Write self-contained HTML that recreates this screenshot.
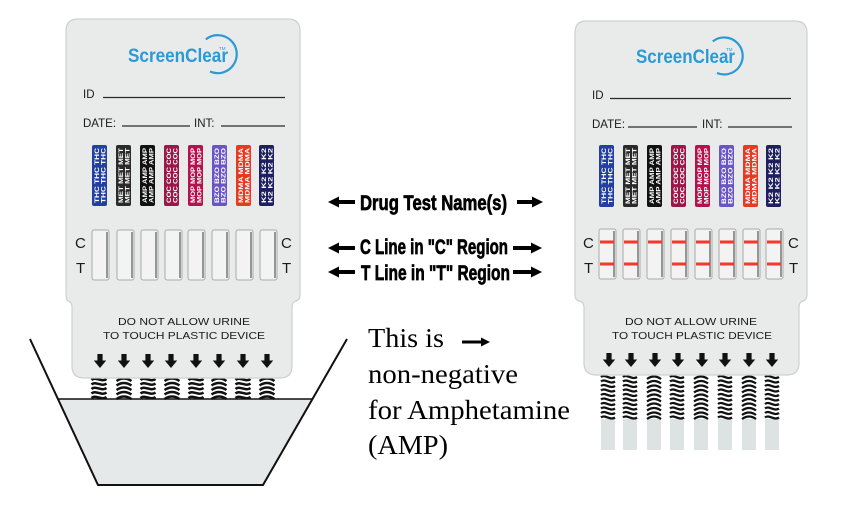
<!DOCTYPE html>
<html><head><meta charset="utf-8"><style>
html,body{margin:0;padding:0;background:#fff;}
svg{display:block;}
.lbl{font-family:"Liberation Sans",sans-serif;fill:#1a1a1a;}
.dn{font-family:"Liberation Sans",sans-serif;font-weight:bold;font-size:6px;fill:#fff;}
.mid{font-family:"Liberation Sans",sans-serif;font-weight:bold;font-size:21px;fill:#000;stroke:#000;stroke-width:0.7;}
.ser{font-family:"Liberation Serif",serif;font-size:27px;fill:#000;}
</style></head><body>
<svg width="856" height="508" viewBox="0 0 856 508" xmlns="http://www.w3.org/2000/svg">
<defs>
<g id="w1" fill="none" stroke="#111" stroke-width="2.5">
<path d="M0,2 C4.5,-2 10,5 15,1"/><path d="M0,6.5 C4.5,2.5 10,9.5 15,5.5"/><path d="M0,11 C4.5,7 10,14 15,10"/><path d="M0,15.5 C4.5,11.5 10,18.5 15,14.5"/><path d="M0,20 C4.5,16 10,23 15,19"/>
</g>
<g id="w1b" fill="none" stroke="#111" stroke-width="2.5">
<path d="M0,3 Q7.5,-2 15,3"/><path d="M0,7.5 Q7.5,2.5 15,7.5"/><path d="M0,12 Q7.5,7 15,12"/><path d="M0,16.5 Q7.5,11.5 15,16.5"/><path d="M0,21 Q7.5,16 15,21"/>
</g>
<g id="w2" fill="none" stroke="#111" stroke-width="2.3">
<path d="M0,1 C4,-2.5 9,4.5 14,1"/><path d="M0,5.5 C4,2 9,9 14,5.5"/><path d="M0,10 C4,6.5 9,13.5 14,10"/><path d="M0,14.5 C4,11 9,18 14,14.5"/><path d="M0,19 C4,15.5 9,22.5 14,19"/><path d="M0,23.5 C4,20 9,27 14,23.5"/><path d="M0,28 C4,24.5 9,31.5 14,28"/><path d="M0,32.5 C4,29 9,36 14,32.5"/><path d="M0,37 C4,33.5 9,40.5 14,37"/><path d="M0,41.5 C4,38 9,45 14,41.5"/>
</g>
<g id="w2b" fill="none" stroke="#111" stroke-width="2.3">
<path d="M0,3 Q7,-2 14,3"/><path d="M0,7.5 Q7,2.5 14,7.5"/><path d="M0,12 Q7,7 14,12"/><path d="M0,16.5 Q7,11.5 14,16.5"/><path d="M0,21 Q7,16 14,21"/><path d="M0,25.5 Q7,20.5 14,25.5"/><path d="M0,30 Q7,25 14,30"/><path d="M0,34.5 Q7,29.5 14,34.5"/><path d="M0,39 Q7,34 14,39"/><path d="M0,43 Q7,38 14,43"/>
</g>
<path id="da" d="M-2.6,0 h5.2 v6.5 h3.6 L0,14 L-6.2,6.5 h3.6 z" fill="#111"/>
<g id="win"><rect x="0" y="0" width="17" height="50" rx="2" fill="#f2f3f2" stroke="#a7abaa" stroke-width="1"/><line x1="15" y1="2" x2="15" y2="48" stroke="#4a4a4a" stroke-width="1.1"/></g>
</defs>

<!-- ============ LEFT DEVICE ============ -->
<polygon points="58,399 312.5,399 263,485 98,485" fill="#e6e9e9"/>
<g>
<use href="#w1" x="91.5" y="378"/><use href="#w1b" x="116.5" y="378"/><use href="#w1" x="140.5" y="378"/><use href="#w1b" x="164.5" y="378"/>
<use href="#w1" x="188.5" y="378"/><use href="#w1b" x="211.5" y="378"/><use href="#w1" x="235.5" y="378"/><use href="#w1b" x="259.5" y="378"/>
</g>
<line x1="58" y1="399" x2="312.5" y2="399" stroke="#111" stroke-width="1.6"/>
<polyline points="30,339 98,485 263,485 347,339" fill="none" stroke="#111" stroke-width="2"/>

<path d="M78,19 H288 Q300,19 300,31 V295 Q300,300 296,301 Q292,302 292,307 V366 Q292,378 280,378 H84 Q72,378 72,366 V307 Q72,302 68,301 Q66,300 66,295 V31 Q66,19 78,19 Z" fill="#e9ebea" stroke="#cdd0cf" stroke-width="1.2"/>

<text x="128" y="62" font-family="Liberation Sans, sans-serif" font-weight="bold" font-size="19" fill="#2a9ad6" textLength="100" lengthAdjust="spacingAndGlyphs">ScreenClear</text>
<path d="M205.8,39.4 A19,19 0 1 1 210,71.5" fill="none" stroke="#2a9ad6" stroke-width="2.2"/>
<text x="219" y="50" font-family="Liberation Sans, sans-serif" font-size="4.5" fill="#2a9ad6">TM</text>

<text class="lbl" x="83" y="98" font-size="11.5">ID</text>
<line x1="103" y1="97.5" x2="285" y2="97.5" stroke="#2a2a2a" stroke-width="1.3"/>
<text class="lbl" x="83" y="127" font-size="11.5">DATE:</text>
<line x1="122" y1="126" x2="190" y2="126" stroke="#2a2a2a" stroke-width="1.3"/>
<text class="lbl" x="194" y="127" font-size="11.5">INT:</text>
<line x1="221" y1="126" x2="285" y2="126" stroke="#2a2a2a" stroke-width="1.3"/>

<g transform="translate(92,145)"><rect width="15" height="61" rx="2" fill="#233f9f"/><text class="dn" transform="translate(7,58) rotate(-90)" textLength="55" lengthAdjust="spacingAndGlyphs">THC THC THC</text><text class="dn" transform="translate(13.5,58) rotate(-90)" textLength="55" lengthAdjust="spacingAndGlyphs">THC THC THC</text></g>
<g transform="translate(116,145)"><rect width="15" height="61" rx="2" fill="#2a2a2a"/><text class="dn" transform="translate(7,58) rotate(-90)" textLength="55" lengthAdjust="spacingAndGlyphs">MET MET MET</text><text class="dn" transform="translate(13.5,58) rotate(-90)" textLength="55" lengthAdjust="spacingAndGlyphs">MET MET MET</text></g>
<g transform="translate(140,145)"><rect width="15" height="61" rx="2" fill="#111"/><text class="dn" transform="translate(7,58) rotate(-90)" textLength="55" lengthAdjust="spacingAndGlyphs">AMP AMP AMP</text><text class="dn" transform="translate(13.5,58) rotate(-90)" textLength="55" lengthAdjust="spacingAndGlyphs">AMP AMP AMP</text></g>
<g transform="translate(164,145)"><rect width="15" height="61" rx="2" fill="#9a1747"/><text class="dn" transform="translate(7,58) rotate(-90)" textLength="55" lengthAdjust="spacingAndGlyphs">COC COC COC</text><text class="dn" transform="translate(13.5,58) rotate(-90)" textLength="55" lengthAdjust="spacingAndGlyphs">COC COC COC</text></g>
<g transform="translate(188,145)"><rect width="15" height="61" rx="2" fill="#b3124d"/><text class="dn" transform="translate(7,58) rotate(-90)" textLength="55" lengthAdjust="spacingAndGlyphs">MOP MOP MOP</text><text class="dn" transform="translate(13.5,58) rotate(-90)" textLength="55" lengthAdjust="spacingAndGlyphs">MOP MOP MOP</text></g>
<g transform="translate(212,145)"><rect width="15" height="61" rx="2" fill="#6a55c7"/><text class="dn" transform="translate(7,58) rotate(-90)" textLength="55" lengthAdjust="spacingAndGlyphs">BZO BZO BZO</text><text class="dn" transform="translate(13.5,58) rotate(-90)" textLength="55" lengthAdjust="spacingAndGlyphs">BZO BZO BZO</text></g>
<g transform="translate(236,145)"><rect width="15" height="61" rx="2" fill="#e53b22"/><text class="dn" transform="translate(7,58) rotate(-90)" textLength="55" lengthAdjust="spacingAndGlyphs">MDMA MDMA</text><text class="dn" transform="translate(13.5,58) rotate(-90)" textLength="55" lengthAdjust="spacingAndGlyphs">MDMA MDMA</text></g>
<g transform="translate(259,145)"><rect width="15" height="61" rx="2" fill="#1e1f5e"/><text class="dn" transform="translate(7,58) rotate(-90)" textLength="55" lengthAdjust="spacingAndGlyphs">K2 K2 K2 K2</text><text class="dn" transform="translate(13.5,58) rotate(-90)" textLength="55" lengthAdjust="spacingAndGlyphs">K2 K2 K2 K2</text></g>

<use href="#win" x="92" y="230"/><use href="#win" x="117" y="230"/><use href="#win" x="141" y="230"/><use href="#win" x="165" y="230"/>
<use href="#win" x="188" y="230"/><use href="#win" x="212" y="230"/><use href="#win" x="236" y="230"/><use href="#win" x="260" y="230"/>
<text class="lbl" x="75" y="248" font-size="15">C</text>
<text class="lbl" x="76" y="273" font-size="15">T</text>
<text class="lbl" x="281" y="248" font-size="15">C</text>
<text class="lbl" x="282" y="273" font-size="15">T</text>

<text class="lbl" x="118" y="325" font-size="10.5" textLength="132" lengthAdjust="spacingAndGlyphs">DO NOT ALLOW URINE</text>
<text class="lbl" x="103" y="339" font-size="10.5" textLength="162" lengthAdjust="spacingAndGlyphs">TO TOUCH PLASTIC DEVICE</text>

<use href="#da" x="100" y="354"/><use href="#da" x="124" y="354"/><use href="#da" x="148" y="354"/><use href="#da" x="171" y="354"/>
<use href="#da" x="196" y="354"/><use href="#da" x="219" y="354"/><use href="#da" x="243" y="354"/><use href="#da" x="267" y="354"/>

<!-- ============ MIDDLE TEXT ============ -->
<g fill="#000">
<path d="M328,202 L339,196.5 V200 H355 V204 H339 V207.5 Z"/>
<path d="M543,202 L532,196.5 V200 H517 V204 H532 V207.5 Z"/>
<path d="M328,248 L339,242.5 V246 H355 V250 H339 V253.5 Z"/>
<path d="M542,248 L531,242.5 V246 H513 V250 H531 V253.5 Z"/>
<path d="M328,272 L339,266.5 V270 H355 V274 H339 V277.5 Z"/>
<path d="M542,272 L531,266.5 V270 H513 V274 H531 V277.5 Z"/>
<path d="M490,342 L481,337.5 V340.5 H462 V343.5 H481 V346.5 Z"/>
</g>
<text class="mid" x="360" y="210" textLength="147" lengthAdjust="spacingAndGlyphs">Drug Test Name(s)</text>
<text class="mid" x="360" y="254" textLength="148" lengthAdjust="spacingAndGlyphs">C Line in "C" Region</text>
<text class="mid" x="361" y="280" textLength="149" lengthAdjust="spacingAndGlyphs">T Line in "T" Region</text>

<text class="ser" x="368" y="347" textLength="76" lengthAdjust="spacingAndGlyphs">This is</text>
<text class="ser" x="368" y="383" textLength="150" lengthAdjust="spacingAndGlyphs">non-negative</text>
<text class="ser" x="368" y="419" textLength="202" lengthAdjust="spacingAndGlyphs">for Amphetamine</text>
<text class="ser" x="368" y="454" textLength="80" lengthAdjust="spacingAndGlyphs">(AMP)</text>

<!-- ============ RIGHT DEVICE ============ -->
<g fill="#dde3e3">
<rect x="601" y="419" width="14" height="31"/><rect x="623" y="419" width="14" height="31"/><rect x="647" y="419" width="14" height="31"/><rect x="670" y="419" width="14" height="31"/>
<rect x="694" y="419" width="14" height="31"/><rect x="718" y="419" width="14" height="31"/><rect x="742" y="419" width="14" height="31"/><rect x="765" y="419" width="14" height="31"/>
</g>
<use href="#w2" x="601" y="376"/><use href="#w2" x="623" y="376"/><use href="#w2b" x="647" y="376"/><use href="#w2" x="670" y="376"/>
<use href="#w2b" x="694" y="376"/><use href="#w2" x="718" y="376"/><use href="#w2b" x="742" y="376"/><use href="#w2" x="765" y="376"/>

<path d="M586,21 H795 Q807,21 807,33 V295 Q807,300 803,301 Q799,302 799,307 V363 Q799,375 787,375 H596 Q584,375 584,363 V307 Q584,302 579,301 Q575,300 575,295 V33 Q575,21 586,21 Z" fill="#e9ebea" stroke="#cdd0cf" stroke-width="1.2"/>

<text x="636" y="63" font-family="Liberation Sans, sans-serif" font-weight="bold" font-size="19" fill="#2a9ad6" textLength="99" lengthAdjust="spacingAndGlyphs">ScreenClear</text>
<path d="M712.8,41.4 A18.5,18.5 0 1 1 717,73" fill="none" stroke="#2a9ad6" stroke-width="2.2"/>
<text x="726" y="51" font-family="Liberation Sans, sans-serif" font-size="4.5" fill="#2a9ad6">TM</text>

<text class="lbl" x="592" y="99" font-size="11.5">ID</text>
<line x1="610" y1="98.5" x2="791" y2="98.5" stroke="#2a2a2a" stroke-width="1.3"/>
<text class="lbl" x="592" y="128" font-size="11.5">DATE:</text>
<line x1="628" y1="127" x2="697" y2="127" stroke="#2a2a2a" stroke-width="1.3"/>
<text class="lbl" x="702" y="128" font-size="11.5">INT:</text>
<line x1="728" y1="127" x2="792" y2="127" stroke="#2a2a2a" stroke-width="1.3"/>

<g transform="translate(599,145)"><rect width="15" height="62" rx="2" fill="#233f9f"/><text class="dn" transform="translate(7,59) rotate(-90)" textLength="56" lengthAdjust="spacingAndGlyphs">THC THC THC</text><text class="dn" transform="translate(13.5,59) rotate(-90)" textLength="56" lengthAdjust="spacingAndGlyphs">THC THC THC</text></g>
<g transform="translate(623,145)"><rect width="15" height="62" rx="2" fill="#2a2a2a"/><text class="dn" transform="translate(7,59) rotate(-90)" textLength="56" lengthAdjust="spacingAndGlyphs">MET MET MET</text><text class="dn" transform="translate(13.5,59) rotate(-90)" textLength="56" lengthAdjust="spacingAndGlyphs">MET MET MET</text></g>
<g transform="translate(647,145)"><rect width="15" height="62" rx="2" fill="#111"/><text class="dn" transform="translate(7,59) rotate(-90)" textLength="56" lengthAdjust="spacingAndGlyphs">AMP AMP AMP</text><text class="dn" transform="translate(13.5,59) rotate(-90)" textLength="56" lengthAdjust="spacingAndGlyphs">AMP AMP AMP</text></g>
<g transform="translate(671,145)"><rect width="15" height="62" rx="2" fill="#9a1747"/><text class="dn" transform="translate(7,59) rotate(-90)" textLength="56" lengthAdjust="spacingAndGlyphs">COC COC COC</text><text class="dn" transform="translate(13.5,59) rotate(-90)" textLength="56" lengthAdjust="spacingAndGlyphs">COC COC COC</text></g>
<g transform="translate(695,145)"><rect width="15" height="62" rx="2" fill="#b3124d"/><text class="dn" transform="translate(7,59) rotate(-90)" textLength="56" lengthAdjust="spacingAndGlyphs">MOP MOP MOP</text><text class="dn" transform="translate(13.5,59) rotate(-90)" textLength="56" lengthAdjust="spacingAndGlyphs">MOP MOP MOP</text></g>
<g transform="translate(719,145)"><rect width="15" height="62" rx="2" fill="#6a55c7"/><text class="dn" transform="translate(7,59) rotate(-90)" textLength="56" lengthAdjust="spacingAndGlyphs">BZO BZO BZO</text><text class="dn" transform="translate(13.5,59) rotate(-90)" textLength="56" lengthAdjust="spacingAndGlyphs">BZO BZO BZO</text></g>
<g transform="translate(743,145)"><rect width="15" height="62" rx="2" fill="#e53b22"/><text class="dn" transform="translate(7,59) rotate(-90)" textLength="56" lengthAdjust="spacingAndGlyphs">MDMA MDMA</text><text class="dn" transform="translate(13.5,59) rotate(-90)" textLength="56" lengthAdjust="spacingAndGlyphs">MDMA MDMA</text></g>
<g transform="translate(766,145)"><rect width="15" height="62" rx="2" fill="#1e1f5e"/><text class="dn" transform="translate(7,59) rotate(-90)" textLength="56" lengthAdjust="spacingAndGlyphs">K2 K2 K2 K2</text><text class="dn" transform="translate(13.5,59) rotate(-90)" textLength="56" lengthAdjust="spacingAndGlyphs">K2 K2 K2 K2</text></g>

<use href="#win" x="599" y="229"/><use href="#win" x="623" y="229"/><use href="#win" x="647" y="229"/><use href="#win" x="671" y="229"/>
<use href="#win" x="695" y="229"/><use href="#win" x="719" y="229"/><use href="#win" x="743" y="229"/><use href="#win" x="766" y="229"/>
<g fill="#f23a2c">
<rect x="600" y="240.5" width="14" height="3"/><rect x="624" y="240.5" width="14" height="3"/><rect x="648" y="240.5" width="14" height="3"/><rect x="672" y="240.5" width="14" height="3"/>
<rect x="696" y="240.5" width="14" height="3"/><rect x="720" y="240.5" width="14" height="3"/><rect x="744" y="240.5" width="14" height="3"/><rect x="767" y="240.5" width="14" height="3"/>
<rect x="600" y="262.5" width="14" height="3"/><rect x="624" y="262.5" width="14" height="3"/><rect x="672" y="262.5" width="14" height="3"/>
<rect x="696" y="262.5" width="14" height="3"/><rect x="720" y="262.5" width="14" height="3"/><rect x="744" y="262.5" width="14" height="3"/><rect x="767" y="262.5" width="14" height="3"/>
</g>
<text class="lbl" x="583" y="248" font-size="15">C</text>
<text class="lbl" x="584" y="273" font-size="15">T</text>
<text class="lbl" x="788" y="248" font-size="15">C</text>
<text class="lbl" x="789" y="273" font-size="15">T</text>

<text class="lbl" x="625" y="325" font-size="10.5" textLength="132" lengthAdjust="spacingAndGlyphs">DO NOT ALLOW URINE</text>
<text class="lbl" x="612" y="339" font-size="10.5" textLength="160" lengthAdjust="spacingAndGlyphs">TO TOUCH PLASTIC DEVICE</text>

<use href="#da" x="609" y="353"/><use href="#da" x="631" y="353"/><use href="#da" x="655" y="353"/><use href="#da" x="678" y="353"/>
<use href="#da" x="702" y="353"/><use href="#da" x="725" y="353"/><use href="#da" x="749" y="353"/><use href="#da" x="772" y="353"/>
</svg>
</body></html>
